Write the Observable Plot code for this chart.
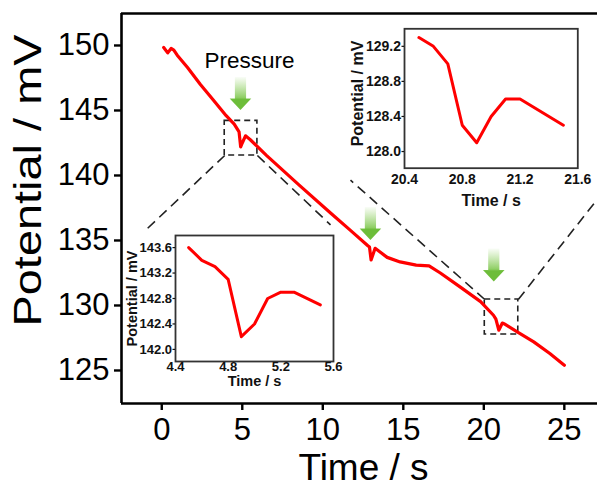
<!DOCTYPE html>
<html><head><meta charset="utf-8">
<script src="https://cdn.jsdelivr.net/npm/d3@7"></script>
<script src="https://cdn.jsdelivr.net/npm/@observablehq/plot@0.6"></script>
<style>
html,body{margin:0;padding:0;background:#fff;}
#wrap{position:relative;width:597px;height:487px;overflow:hidden;background:#fff;}
#wrap svg{position:absolute;overflow:visible;}
</style></head><body><div id="wrap"></div>
<script>
// ---- main series (Time / s, Potential / mV) ----
const mainTime = [0.12,0.37,0.58,0.75,0.96,1.6,2.4,3.2,4.0,4.5,4.8,4.9,5.0,5.2,5.5,6.5,8.5,10.5,11.7,12.8,12.9,13.0,13.25,14.0,14.8,15.8,16.6,17.3,18.5,19.8,20.6,20.75,20.93,21.15,21.25,22.1,23.1,24.1,25.0];
const mainPotential = [149.85,149.43,149.77,149.64,149.25,148.3,147.0,145.8,144.6,143.95,143.35,142.2,142.5,143.05,142.75,141.55,139.3,137.1,135.8,134.6,134.5,133.5,134.4,133.7,133.35,133.1,133.05,132.5,131.45,130.3,129.25,128.95,128.1,128.65,128.6,127.95,127.2,126.3,125.4];
// ---- inset 1 ----
const inset1Time = [4.5,4.6,4.7,4.8,4.9,5.0,5.1,5.2,5.3,5.5];
const inset1Potential = [143.6,143.4,143.3,143.1,142.2,142.4,142.8,142.9,142.9,142.7];
// ---- inset 2 ----
const inset2Time = [20.5,20.6,20.7,20.8,20.9,21.0,21.1,21.2,21.3,21.4,21.5];
const inset2Potential = [129.3,129.2,129.0,128.3,128.1,128.4,128.6,128.6,128.5,128.4,128.3];
// ---- ticks ----
const mainXTicks = [0,5,10,15,20,25];
const mainYTicks = [125,130,135,140,145,150];
const inset1XTicks = [4.4,4.8,5.2,5.6];
const inset1YTicks = [142.0,142.4,142.8,143.2,143.6];
const inset2XTicks = [20.4,20.8,21.2,21.6];
const inset2YTicks = [128.0,128.4,128.8,129.2];
// ---- annotations ----
const arrowTime = [4.92,12.99,20.65];
const arrowTip = [145.0,135.0,131.8];
const boxT1 = [3.91,20.06], boxT2 = [5.94,22.14];
const boxV1 = [141.54,127.77], boxV2 = [144.2,130.46];
const linkT1 = [3.91,5.94,20.06,22.14], linkV1 = [141.54,141.54,130.46,130.46];
const linkT2 = [-0.95,10.48,11.72,27.2], linkV2 = [135.85,136.2,139.64,138.4];
const pressureLabel = [{t:5.45, v:148.83, text:"Pressure"}];

const FONT = '"Liberation Sans", Arial, Helvetica, sans-serif';
const toRows = (T,V) => T.map((t,i)=>({t, v:V[i]}));
const mainData = toRows(mainTime, mainPotential);
const arrows = toRows(arrowTime, arrowTip);
const boxes = boxT1.map((t,i)=>({t1:t, t2:boxT2[i], v1:boxV1[i], v2:boxV2[i]}));
const links = linkT1.map((t,i)=>({t1:t, v1:linkV1[i], t2:linkT2[i], v2:linkV2[i]}));

function arrowMark(data){
  return (index, scales) => {
    const g = d3.create("svg:g");
    const grad = g.append("defs").append("linearGradient").attr("id","arrowGrad")
      .attr("x1",0).attr("y1",0).attr("x2",0).attr("y2",1);
    grad.append("stop").attr("offset","0").attr("stop-color","#8fd060").attr("stop-opacity",0.05);
    grad.append("stop").attr("offset","0.62").attr("stop-color","#7cc64a").attr("stop-opacity",0.85);
    grad.append("stop").attr("offset","0.68").attr("stop-color","#6dbd3a").attr("stop-opacity",1);
    grad.append("stop").attr("offset","1").attr("stop-color","#6dbd3a").attr("stop-opacity",1);
    for (const d of data){
      const x = scales.x(d.t), y = scales.y(d.v);
      g.append("path")
        .attr("d",`M${x-5.6},${y-33}H${x+5.6}V${y-11.5}H${x+10.8}L${x},${y}L${x-10.8},${y-11.5}H${x-5.6}Z`)
        .attr("fill","url(#arrowGrad)");
    }
    return g.node();
  };
}

const main = Plot.plot({
  width: 597, height: 487,
  marginLeft: 121, marginRight: 0, marginTop: 13, marginBottom: 84,
  x: {domain: [-2.5, 27.06]},
  y: {domain: [122.46, 152.46]},
  style: {fontFamily: FONT, fontSize: "31px", color: "#000", background: "transparent", overflow: "visible"},
  marks: [
    Plot.link(links, {x1:"t1", y1:"v1", x2:"t2", y2:"v2", stroke:"#222", strokeWidth:1.6, strokeDasharray:"10,6"}),
    Plot.rect(boxes, {x1:"t1", x2:"t2", y1:"v1", y2:"v2", fill:"none", stroke:"#222", strokeWidth:1.6, strokeDasharray:"6,4"}),
    arrowMark(arrows),
    Plot.line(mainData, {x:"t", y:"v", stroke:"#f00", strokeWidth:3.2, strokeLinejoin:"round"}),
    Plot.ruleX([-2.5], {stroke:"#000", strokeWidth:2.6}),
    Plot.ruleY([152.46, 122.46], {stroke:"#000", strokeWidth:2.6}),
    Plot.axisX({ticks: mainXTicks, tickSize: 7, tickPadding: 7, strokeWidth: 2.4, tickFormat: d=>String(d), label: null, fontSize: 31}),
    Plot.axisY({ticks: mainYTicks, tickSize: 7, tickPadding: 5, strokeWidth: 2.4, tickFormat: d=>String(d), label: null, fontSize: 31}),
    Plot.text(pressureLabel, {x:"t", y:"v", text:"text", fontSize: 22.5, fill:"#000", lineAnchor:"middle"}),
    Plot.text(["Time / s"], {frameAnchor:"bottom", dx: 4, dy: 64.5, fontSize: 37, textAnchor:"middle", lineAnchor:"middle", fill:"#000"}),
    Plot.text(["Potential / mV"], {frameAnchor:"left", rotate:-90, dx:-92.5, dy:-28, fontSize: 38, textAnchor:"middle", lineAnchor:"middle", fill:"#000"})
  ]
});
main.style.left = "0px"; main.style.top = "0px";
document.getElementById("wrap").appendChild(main);
d3.select(main).selectAll("text").each(function(){
  if (this.textContent === "Potential / mV") {
    this.setAttribute("text-anchor", "start");
    this.setAttribute("x", -146);
    this.setAttribute("textLength", 292);
    this.setAttribute("lengthAdjust", "spacingAndGlyphs");
  }
});

function inset(o){
  const svg = Plot.plot({
    width: o.width, height: o.height,
    marginLeft: o.mL, marginTop: o.mT, marginRight: o.mR, marginBottom: o.mB,
    x: {domain: o.xDomain},
    y: {domain: o.yDomain},
    style: {fontFamily: FONT, fontSize: o.tickFs + "px", fontWeight: "bold", color: "#111", background: "transparent", overflow: "visible"},
    marks: [
      Plot.frame({stroke:"#333", strokeWidth:1.8}),
      Plot.line(toRows(o.time, o.pot), {x:"t", y:"v", stroke:"#f00", strokeWidth:3, strokeLinejoin:"round"}),
      Plot.axisX({ticks: o.xT, tickSize: o.xTickSize, tickPadding: o.xPad, tickFormat: d3.format(".1f"), label: null, fontSize: o.tickFs, fontWeight:"bold"}),
      Plot.axisY({ticks: o.yT, tickSize: 2.5, tickPadding: 1, tickFormat: d3.format(".1f"), label: null, fontSize: o.tickFs, fontWeight:"bold", strokeWidth:1.2}),
      Plot.text(["Time / s"], {frameAnchor:"bottom", dy: o.xLabDy, fontSize: o.labFs, fontWeight:"bold", textAnchor:"middle", lineAnchor:"middle", fill:"#111"}),
      Plot.text(["Potential / mV"], {frameAnchor:"left", rotate:-90, dx: o.yLabDx, dy: o.yLabDy, fontSize: o.labFs, fontWeight:"bold", textAnchor:"middle", lineAnchor:"middle", fill:"#111"})
    ]
  });
  svg.style.left = o.left + "px"; svg.style.top = o.top + "px";
  document.getElementById("wrap").appendChild(svg);
}

inset({time: inset1Time, pot: inset1Potential, xDomain:[4.4,5.6], yDomain:[141.81,143.79], xT: inset1XTicks, yT: inset1YTicks,
  left:115, top:225, width:230, height:166, mL:60, mT:10, mR:12, mB:30,
  tickFs:13, labFs:14.5, xTickSize:0, xPad:0, xLabDy:19.5, yLabDx:-43.3, yLabDy:0});
inset({time: inset2Time, pot: inset2Potential, xDomain:[20.4,21.6], yDomain:[127.81,129.4], xT: inset2XTicks, yT: inset2YTicks,
  left:340, top:18, width:257.3, height:196.7, mL:64, mT:10.3, mR:20, mB:47,
  tickFs:14, labFs:16, xTickSize:0, xPad:6, xLabDy:33, yLabDx:-47, yLabDy:-5});
</script>
</body></html>
